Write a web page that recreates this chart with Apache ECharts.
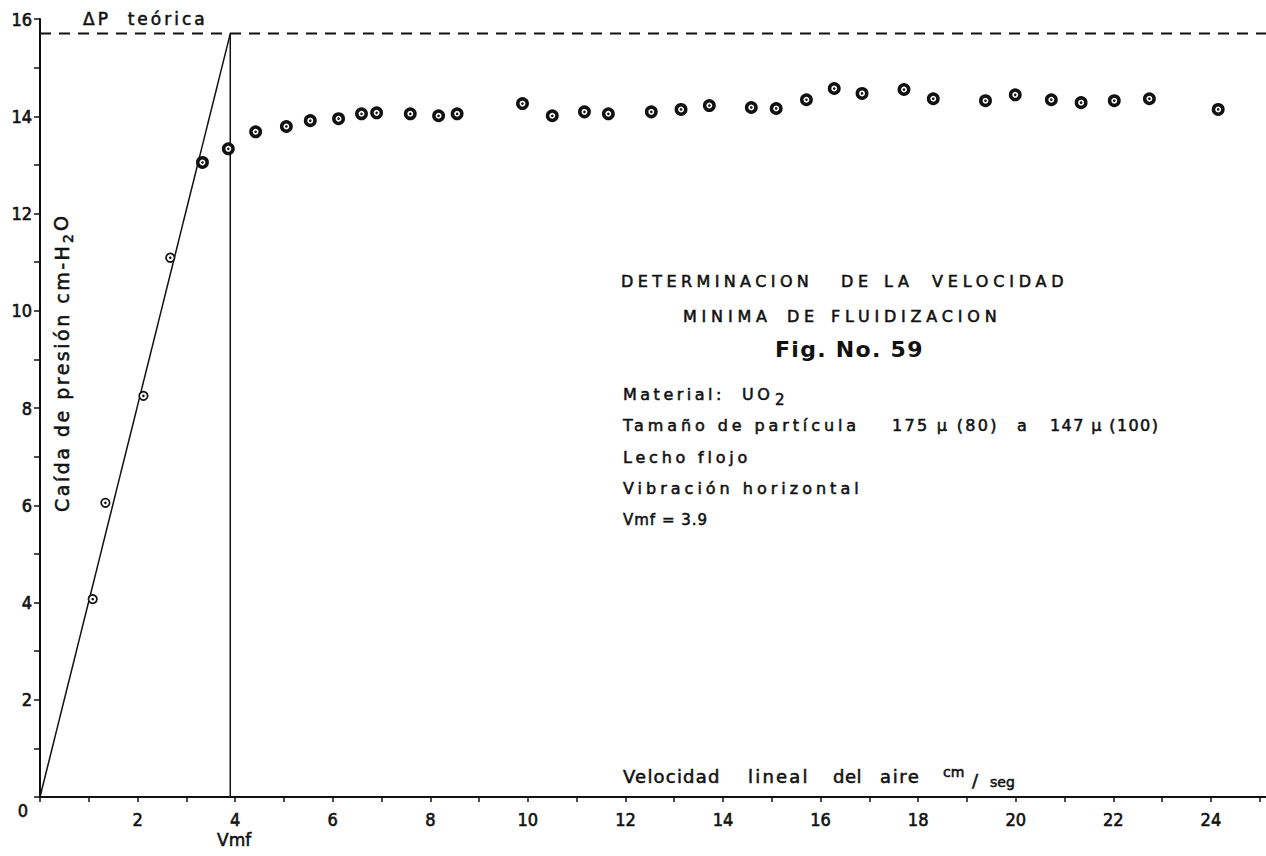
<!DOCTYPE html>
<html>
<head>
<meta charset="utf-8">
<script src="https://cdn.jsdelivr.net/npm/echarts@6/dist/echarts.min.js"></script>
<style>
  html, body { margin: 0; padding: 0; background: #ffffff; }
  #chart { width: 1266px; height: 856px; }
</style>
</head>
<body>
<div id="chart"></div>
<script>
// Velocidad lineal del aire (cm/seg) vs caída de presión (cm H2O), UO2, lecho flojo
const velocidadLecho = [1.08, 1.34, 2.12, 2.67];
const presionLecho   = [4.07, 6.05, 8.25, 11.09];

const velocidadFluid = [3.33, 3.86, 4.42, 5.05, 5.54, 6.12, 6.59, 6.90, 7.59, 8.17,
                        8.55, 9.89, 10.50, 11.16, 11.65, 12.53, 13.14, 13.72, 14.58, 15.09,
                        15.71, 16.28, 16.85, 17.71, 18.31, 19.38, 19.99, 20.73, 21.34, 22.02,
                        22.74, 24.15];
const presionFluid   = [13.05, 13.33, 13.68, 13.79, 13.91, 13.95, 14.05, 14.07, 14.05, 14.01,
                        14.05, 14.26, 14.01, 14.09, 14.05, 14.09, 14.14, 14.22, 14.18, 14.16,
                        14.34, 14.57, 14.47, 14.55, 14.36, 14.32, 14.44, 14.34, 14.28, 14.32,
                        14.36, 14.14];

const vmf = 3.9;          // velocidad mínima de fluidización
const dpTeorica = 15.7;   // caída de presión teórica
const xMax = 25.13;
const yMax = 16;
const xTickLabels = [2, 4, 6, 8, 10, 12, 14, 16, 18, 20, 22, 24];
const yTickLabels = [2, 4, 6, 8, 10, 12, 14, 16];

const NB = '\u00a0';
const txtDP = 'ΔP' + NB + NB + 'teórica';
const txtFig = 'Fig. No. 59';
const txtMaterial = 'Material:' + NB + NB + 'UO';
const txtTamano = 'Tamaño de partícula';
const txtMalla1 = '175 µ (80)';
const txtA = 'a';
const txtMalla2 = '147 µ (100)';
const txtLecho = 'Lecho flojo';
const txtVibracion = 'Vibración horizontal';
const txtVmfValor = 'Vmf = 3.9';
const txtYName = 'Caída de presión cm-H';

const slopeLine = [[0, 0], [vmf, dpTeorica]];
const vmfLine = [[vmf, 0], [vmf, dpTeorica]];
const teoricaLine = [[0, dpTeorica], [xMax, dpTeorica]];

const INK = '#111111';
const FONT = '"DejaVu Sans", "Noto Sans", sans-serif';
const TICKFONT = '"DejaVu Sans Condensed", "Liberation Sans Narrow", "DejaVu Sans", sans-serif';

// per-string letter spacing (px) for the stencil lettering
const SPACING = {
  'DETERMINACION': 4.4, 'DE': 4.6, 'LA': 4.6, 'VELOCIDAD': 4.8,
  'MINIMA': 4.8, 'FLUIDIZACION': 4.8,
  'Velocidad': 1.2, 'lineal': 2.2, 'del': 0.5, 'aire': 1.6
};
SPACING[txtDP] = 3.0;
SPACING[txtFig] = 1.3;
SPACING[txtMaterial] = 3.5;
SPACING[txtTamano] = 3.9;
SPACING[txtMalla1] = 2.3;
SPACING[txtMalla2] = 1.4;
SPACING[txtLecho] = 3.8;
SPACING[txtVibracion] = 4.0;
SPACING[txtVmfValor] = 1.0;
SPACING[txtYName] = 2.5;

function txt(x, y, text, size, opts) {
  opts = opts || {};
  return {
    type: 'text',
    x: x, y: y,
    rotation: opts.rotation || 0,
    z: 10,
    style: {
      text: text,
      fontSize: size,
      fontFamily: opts.family || FONT,
      fontWeight: opts.weight || 'normal',
      fill: INK,
      stroke: opts.weight === 'bold' ? null : INK,
      lineWidth: 0.55,
      align: opts.align || 'left',
      textAlign: opts.align || 'left',
      verticalAlign: 'middle',
      textVerticalAlign: 'middle'
    }
  };
}

const zipPts = (xs, ys) => xs.map((v, i) => [v, ys[i]]);

const chart = echarts.init(document.getElementById('chart'), null, { renderer: 'svg' });

const tickLabelStyle = {
  color: INK, fontSize: 18, fontFamily: TICKFONT,
  textBorderColor: INK, textBorderWidth: 0.6
};

const option = {
  animation: false,
  backgroundColor: '#ffffff',
  grid: { left: 40, right: 0, top: 19, bottom: 59, containLabel: false, outerBoundsMode: 'none' },
  xAxis: {
    type: 'value', min: 0, max: xMax, interval: 1,
    axisLine: { lineStyle: { color: INK, width: 2 } },
    axisTick: { show: true, length: 5, lineStyle: { color: INK, width: 1.5 } },
    splitLine: { show: false },
    axisLabel: Object.assign({
      margin: 13, showMaxLabel: false,
      formatter: v => (xTickLabels.indexOf(v) >= 0 ? String(v) : '')
    }, tickLabelStyle)
  },
  yAxis: {
    type: 'value', min: 0, max: yMax, interval: 1,
    axisLine: { lineStyle: { color: INK, width: 2 } },
    axisTick: { show: true, length: 6, lineStyle: { color: INK, width: 1.5 } },
    splitLine: { show: false },
    axisLabel: Object.assign({
      margin: 8,
      formatter: v => (yTickLabels.indexOf(v) >= 0 ? String(v) : '')
    }, tickLabelStyle)
  },
  series: [
    {
      type: 'line', data: teoricaLine, symbol: 'none', silent: true,
      lineStyle: { color: INK, width: 2, type: [11, 8] }
    },
    {
      type: 'line', data: slopeLine, symbol: 'none', silent: true,
      lineStyle: { color: INK, width: 1.5 }
    },
    {
      type: 'line', data: vmfLine, symbol: 'none', silent: true,
      lineStyle: { color: INK, width: 1.5 }
    },
    {
      type: 'scatter', data: zipPts(velocidadLecho, presionLecho), z: 5,
      symbol: 'circle', symbolSize: 8.5,
      itemStyle: { color: '#ffffff', borderColor: INK, borderWidth: 1.7, opacity: 1 }
    },
    {
      type: 'scatter', data: zipPts(velocidadFluid, presionFluid), z: 5,
      symbol: 'circle', symbolSize: 9.4,
      itemStyle: { color: '#ffffff', borderColor: INK, borderWidth: 3.5, opacity: 1 }
    },
    {
      type: 'scatter', data: zipPts(velocidadLecho, presionLecho).concat(zipPts(velocidadFluid, presionFluid)), z: 6,
      symbol: 'circle', symbolSize: 2.6,
      itemStyle: { color: INK, opacity: 1 }
    }
  ],
  graphic: [
    txt(83, 19, txtDP, 17),
    txt(621, 281, 'DETERMINACION', 16),
    txt(841, 281, 'DE', 16),
    txt(884, 281, 'LA', 16),
    txt(932, 281, 'VELOCIDAD', 16),
    txt(683, 316, 'MINIMA', 16),
    txt(787, 316, 'DE', 16),
    txt(831, 316, 'FLUIDIZACION', 16),
    txt(775, 349, txtFig, 22, { weight: 'bold' }),
    txt(623, 394, txtMaterial, 16),
    txt(775, 400, '2', 15),
    txt(623, 425, txtTamano, 16),
    txt(892, 425, txtMalla1, 16),
    txt(1017, 425, txtA, 16),
    txt(1050, 425, txtMalla2, 16),
    txt(623, 457, txtLecho, 16),
    txt(623, 488, txtVibracion, 16),
    txt(623, 520, txtVmfValor, 15),
    txt(623, 776, 'Velocidad', 18),
    txt(748, 776, 'lineal', 18),
    txt(833, 776, 'del', 18),
    txt(880, 776, 'aire', 18),
    txt(943, 772, 'cm', 14),
    txt(972, 780, '/', 18),
    txt(990, 782, 'seg', 14),
    txt(217, 840, 'Vmf', 17),
    txt(23, 810, '0', 18, { family: TICKFONT, align: 'center' }),
    txt(62, 512, txtYName, 19, { rotation: Math.PI / 2 }),
    txt(67.5, 243, '2', 14, { rotation: Math.PI / 2 }),
    txt(61, 231, 'O', 19, { rotation: Math.PI / 2 })
  ]
};

chart.setOption(option);

function applySpacing() {
  document.querySelectorAll('#chart svg text').forEach(t => {
    const s = SPACING[t.textContent];
    if (s != null) t.style.letterSpacing = s + 'px';
  });
}
applySpacing();
chart.on('finished', applySpacing);
</script>
</body>
</html>
